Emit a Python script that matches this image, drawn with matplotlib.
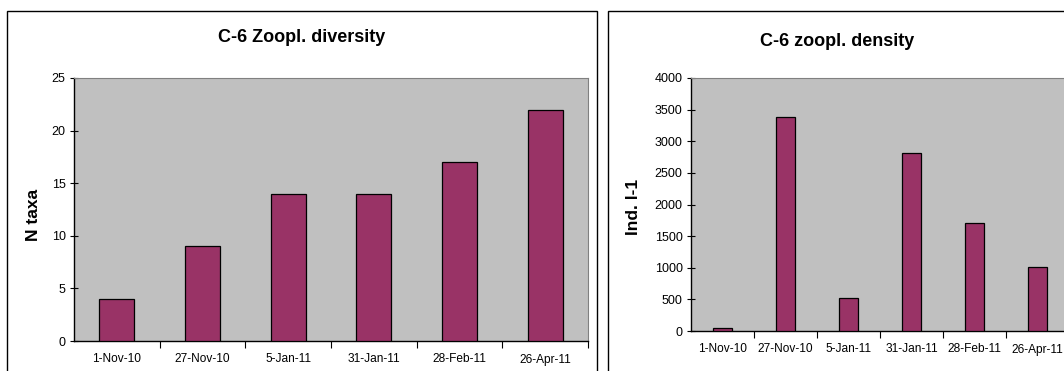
import matplotlib.pyplot as plt
from matplotlib.patches import Rectangle

# sampling dates and values
dates = ['1-Nov-10', '27-Nov-10', '5-Jan-11', '31-Jan-11', '28-Feb-11', '26-Apr-11']
n_taxa = [4, 9, 14, 14, 17, 22]
density = [50, 3390, 520, 2820, 1700, 1010]

plt.rcParams['font.family'] = ['Liberation Sans', 'DejaVu Sans']

W, H = 1064, 371
fig = plt.figure(figsize=(W / 100, H / 100), dpi=100)
fig.patch.set_facecolor('white')


def box(x0, y0, x1, y1):
    # pixel coords (top-left origin) -> figure fraction
    return [x0 / W, 1 - y1 / H, (x1 - x0) / W, (y1 - y0) / H]


# outer chart frames
for x0, x1 in [(7, 597), (608, 1080)]:
    fig.patches.append(Rectangle((x0 / W, -0.05), (x1 - x0) / W, 1 - 11 / H + 0.05,
                                 transform=fig.transFigure, fill=False,
                                 edgecolor='black', linewidth=1.0))


def style(ax, values, width, ymax, ystep):
    x = range(len(values))
    ax.set_facecolor('#C0C0C0')
    ax.bar(x, values, width=width, color='#993366', edgecolor='black',
           linewidth=0.9, zorder=3)
    ax.set_xlim(-0.5, len(values) - 0.5)
    ax.set_ylim(0, ymax)
    ax.set_yticks(range(0, ymax + 1, ystep))
    ax.set_xticks(list(x))
    ax.set_xticklabels(dates, fontsize=8.6)
    ax.set_xticks([i + 0.5 for i in x], minor=True)
    ax.tick_params(axis='x', which='major', length=0, pad=9)
    ax.tick_params(axis='x', which='minor', length=5, direction='out', width=0.8)
    ax.tick_params(axis='y', length=6, direction='inout', width=0.8, labelsize=9, pad=3)
    for s in ['top', 'right']:
        ax.spines[s].set_color('#808080')
    for s in ['left', 'bottom']:
        ax.spines[s].set_color('black')
        ax.spines[s].set_linewidth(1.0)


ax1 = fig.add_axes(box(74, 78, 588, 341))
style(ax1, n_taxa, 0.41, 25, 5)

ax2 = fig.add_axes(box(691, 78, 1069, 331))
style(ax2, density, 0.29, 4000, 500)

fig.text(302 / W, 1 - 38 / H, 'C-6 Zoopl. diversity', ha='center', va='center',
         fontsize=13, fontweight='bold')
fig.text(837 / W, 1 - 42 / H, 'C-6 zoopl. density', ha='center', va='center',
         fontsize=13, fontweight='bold')
fig.text(33 / W, 1 - 215 / H, 'N taxa', ha='center', va='center', rotation=90,
         fontsize=12.5, fontweight='bold')
fig.text(633 / W, 1 - 207 / H, 'Ind. l-1', ha='center', va='center', rotation=90,
         fontsize=12.5, fontweight='bold')

plt.savefig('out.png', dpi=100)
